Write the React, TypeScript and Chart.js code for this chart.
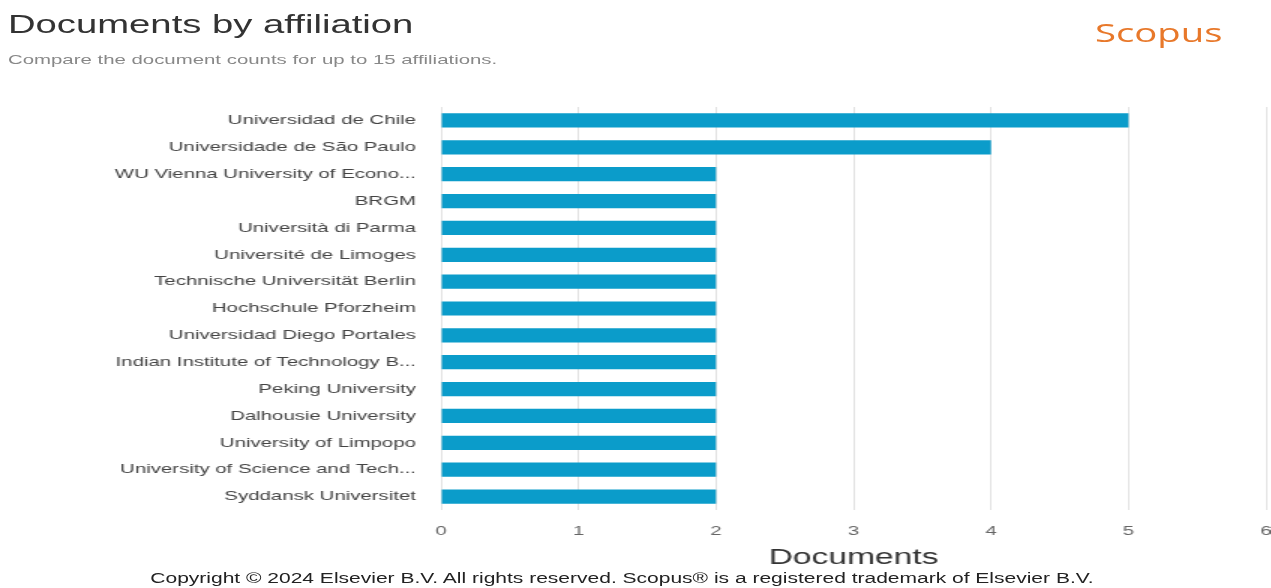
import React, { useEffect, useRef } from "react";
import { Chart, registerables } from "chart.js";

Chart.register(...registerables);

const affiliations: string[] = [
  "Universidad de Chile",
  "Universidade de São Paulo",
  "WU Vienna University of Econo...",
  "BRGM",
  "Università di Parma",
  "Université de Limoges",
  "Technische Universität Berlin",
  "Hochschule Pforzheim",
  "Universidad Diego Portales",
  "Indian Institute of Technology B...",
  "Peking University",
  "Dalhousie University",
  "University of Limpopo",
  "University of Science and Tech...",
  "Syddansk Universitet",
];

const documents: number[] = [5, 4, 2, 2, 2, 2, 2, 2, 2, 2, 2, 2, 2, 2, 2];

const xTicks: number[] = [0, 1, 2, 3, 4, 5, 6];

const FONT = "'Liberation Sans', Arial, sans-serif";
const STRETCH = 1.5;
const W = 847;

export default function App() {
  const canvasRef = useRef<HTMLCanvasElement | null>(null);

  useEffect(() => {
    if (!canvasRef.current) return;
    const chart = new Chart(canvasRef.current, {
      type: "bar",
      data: {
        labels: affiliations,
        datasets: [
          {
            label: "Documents",
            data: documents,
            backgroundColor: "#0b9cca",
            borderWidth: 0,
            categoryPercentage: 1,
            barPercentage: 0.53,
          },
        ],
      },
      options: {
        indexAxis: "y",
        animation: false,
        responsive: false,
        maintainAspectRatio: false,
        devicePixelRatio: 1,
        layout: { padding: { top: 12, right: 3, left: 0, bottom: 0 } },
        plugins: {
          legend: { display: false },
          tooltip: { enabled: false },
          title: { display: false },
        },
        scales: {
          x: {
            min: xTicks[0],
            max: xTicks[xTicks.length - 1],
            afterBuildTicks: (scale: any) => {
              scale.ticks = xTicks.map((v) => ({ value: v }));
            },
            afterFit: (scale: any) => {
              scale.height = 61;
              scale.paddingLeft = 0;
              scale.paddingRight = 0;
            },
            grid: {
              color: "#e2e2e2",
              drawTicks: false,
              lineWidth: 1,
            },
            border: { display: false },
            ticks: {
              padding: 13,
              color: "#666",
              font: { family: FONT, size: 13.6 },
            },
            title: {
              display: true,
              text: "Documents",
              color: "#333",
              font: { family: FONT, size: 22.4 },
              padding: { top: 4, bottom: 0 },
            },
          },
          y: {
            afterFit: (scale: any) => {
              scale.width = 294;
              scale.paddingTop = 0;
              scale.paddingBottom = 0;
            },
            grid: { display: false, drawTicks: false },
            border: { display: false },
            ticks: {
              padding: 16.7,
              color: "#444",
              font: { family: FONT, size: 13.6 },
              autoSkip: false,
            },
          },
        },
      },
    });
    return () => chart.destroy();
  }, []);

  return (
    <div
      style={{
        position: "fixed",
        left: 0,
        top: 0,
        width: 1271,
        height: 588,
        background: "#fff",
        overflow: "hidden",
      }}
    >
      <div
        style={{
          position: "absolute",
          left: 0,
          top: 0,
          width: 1271 / STRETCH,
          height: 588,
          transform: `scaleX(${STRETCH})`,
          transformOrigin: "0 0",
          fontFamily: FONT,
        }}
      >
        <div
          style={{
            position: "absolute",
            left: 5.3,
            top: 9,
            fontSize: 25.5,
            color: "#333",
            lineHeight: "30px",
            whiteSpace: "nowrap",
          }}
        >
          Documents by affiliation
        </div>
        <div
          style={{
            position: "absolute",
            left: 5.3,
            top: 52,
            fontSize: 13.6,
            color: "#888",
            lineHeight: "16px",
            whiteSpace: "nowrap",
          }}
        >
          Compare the document counts for up to 15 affiliations.
        </div>
        <div
          style={{
            position: "absolute",
            left: 730,
            top: 16,
            fontSize: 25.5,
            color: "#e8782a",
            fontFamily: "'Open Sans', 'Noto Sans', sans-serif",
            lineHeight: "32px",
            whiteSpace: "nowrap",
          }}
        >
          Scopus
        </div>
        <canvas
          ref={canvasRef}
          width={W}
          height={476}
          style={{ position: "absolute", left: 0, top: 95, width: W, height: 476 }}
        />
        <div
          style={{
            position: "absolute",
            left: 0,
            width: 829.3,
            top: 570,
            textAlign: "center",
            fontSize: 14,
            color: "#222",
            lineHeight: "16px",
            whiteSpace: "nowrap",
          }}
        >
          Copyright © 2024 Elsevier B.V. All rights reserved. Scopus® is a registered trademark of Elsevier B.V.
        </div>
      </div>
    </div>
  );
}
